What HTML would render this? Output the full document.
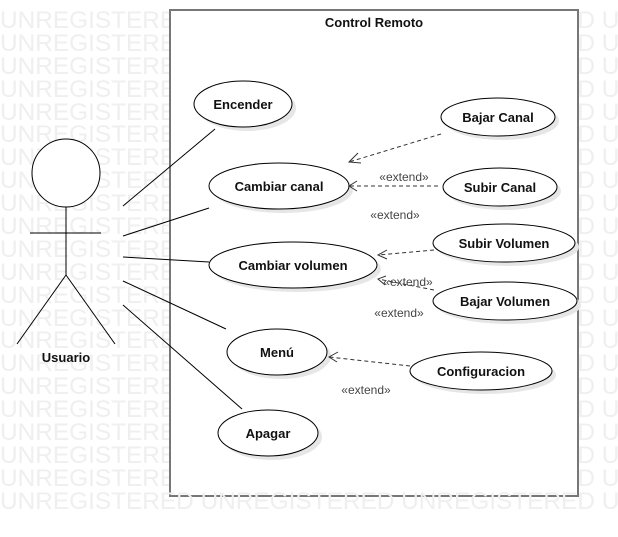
<!DOCTYPE html>
<html><head><meta charset="utf-8"><style>
html,body{margin:0;padding:0;background:#fff;}
svg{display:block;font-family:"Liberation Sans",sans-serif;}
.wm{fill:#efefef;font-size:24.4px;}
.uc{fill:#fff;stroke:#000;stroke-width:1;}
.sh{fill:#e6e6e6;}
.lb{font-size:13px;font-weight:bold;fill:#111;text-anchor:middle;}
.ex{font-size:12px;fill:#444;text-anchor:middle;}
.dl{stroke:#333;stroke-width:1;stroke-dasharray:4,3;fill:none;}
.ah{stroke:#333;stroke-width:1;fill:none;}
</style></head><body>
<svg width="618" height="537" viewBox="0 0 618 537">
<g class="wm">
<text x="0" y="28">UNREGISTERED UNREGISTERED UNREGISTERED U</text>
<text x="0" y="51">UNREGISTERED UNREGISTERED UNREGISTERED U</text>
<text x="0" y="74">UNREGISTERED UNREGISTERED UNREGISTERED U</text>
<text x="0" y="97">UNREGISTERED UNREGISTERED UNREGISTERED U</text>
<text x="0" y="120">UNREGISTERED UNREGISTERED UNREGISTERED U</text>
<text x="0" y="142">UNREGISTERED UNREGISTERED UNREGISTERED U</text>
<text x="0" y="165">UNREGISTERED UNREGISTERED UNREGISTERED U</text>
<text x="0" y="188">UNREGISTERED UNREGISTERED UNREGISTERED U</text>
<text x="0" y="211">UNREGISTERED UNREGISTERED UNREGISTERED U</text>
<text x="0" y="234">UNREGISTERED UNREGISTERED UNREGISTERED U</text>
<text x="0" y="257">UNREGISTERED UNREGISTERED UNREGISTERED U</text>
<text x="0" y="280">UNREGISTERED UNREGISTERED UNREGISTERED U</text>
<text x="0" y="303">UNREGISTERED UNREGISTERED UNREGISTERED U</text>
<text x="0" y="326">UNREGISTERED UNREGISTERED UNREGISTERED U</text>
<text x="0" y="348">UNREGISTERED UNREGISTERED UNREGISTERED U</text>
<text x="0" y="371">UNREGISTERED UNREGISTERED UNREGISTERED U</text>
<text x="0" y="394">UNREGISTERED UNREGISTERED UNREGISTERED U</text>
<text x="0" y="417">UNREGISTERED UNREGISTERED UNREGISTERED U</text>
<text x="0" y="440">UNREGISTERED UNREGISTERED UNREGISTERED U</text>
<text x="0" y="463">UNREGISTERED UNREGISTERED UNREGISTERED U</text>
<text x="0" y="486">UNREGISTERED UNREGISTERED UNREGISTERED U</text>
</g>
<rect x="170" y="10" width="408" height="486" fill="#fff" stroke="#777" stroke-width="2"/>
<text class="wm" x="0" y="509">UNREGISTERED UNREGISTERED UNREGISTERED U</text>
<text class="lb" x="374" y="27">Control Remoto</text>

<g stroke="#000" stroke-width="1" fill="none">
<circle cx="66" cy="173" r="34" fill="#fff"/>
<line x1="66" y1="207" x2="66" y2="275"/>
<line x1="30" y1="233" x2="101" y2="233"/>
<line x1="66" y1="275" x2="17" y2="344"/>
<line x1="66" y1="275" x2="115" y2="344"/>
<line x1="123" y1="206" x2="215" y2="129"/>
<line x1="123" y1="236" x2="209" y2="208"/>
<line x1="123" y1="257" x2="209" y2="262"/>
<line x1="123" y1="281" x2="226" y2="329"/>
<line x1="123" y1="305" x2="242" y2="409"/>
</g>
<text class="lb" x="66" y="362">Usuario</text>

<g class="sh">
<ellipse cx="247" cy="108" rx="49" ry="23"/>
<ellipse cx="283" cy="190" rx="70" ry="23"/>
<ellipse cx="297" cy="269" rx="84" ry="23"/>
<ellipse cx="281" cy="356" rx="50" ry="23"/>
<ellipse cx="272" cy="437" rx="50" ry="23"/>
<ellipse cx="502" cy="121" rx="57" ry="19"/>
<ellipse cx="504" cy="191" rx="57" ry="19"/>
<ellipse cx="508" cy="247" rx="71" ry="19"/>
<ellipse cx="509" cy="305" rx="72" ry="19"/>
<ellipse cx="485" cy="375" rx="71" ry="19"/>
</g>
<g class="uc">
<ellipse cx="243" cy="104" rx="49" ry="23"/>
<ellipse cx="279" cy="186" rx="70" ry="23"/>
<ellipse cx="293" cy="265" rx="84" ry="23"/>
<ellipse cx="277" cy="352" rx="50" ry="23"/>
<ellipse cx="268" cy="433" rx="50" ry="23"/>
<ellipse cx="498" cy="117" rx="57" ry="19"/>
<ellipse cx="500" cy="187" rx="57" ry="19"/>
<ellipse cx="504" cy="243" rx="71" ry="19"/>
<ellipse cx="505" cy="301" rx="72" ry="19"/>
<ellipse cx="481" cy="371" rx="71" ry="19"/>
</g>
<text class="lb" x="243" y="109">Encender</text>
<text class="lb" x="279" y="191">Cambiar canal</text>
<text class="lb" x="293" y="270">Cambiar volumen</text>
<text class="lb" x="277" y="357">Menú</text>
<text class="lb" x="268" y="438">Apagar</text>
<text class="lb" x="498" y="122">Bajar Canal</text>
<text class="lb" x="500" y="192">Subir Canal</text>
<text class="lb" x="504" y="248">Subir Volumen</text>
<text class="lb" x="505" y="306">Bajar Volumen</text>
<text class="lb" x="481" y="376">Configuracion</text>

<line class="dl" x1="441" y1="134" x2="349" y2="162"/>
<polyline class="ah" points="358,153 349,162 361,163"/>
<line class="dl" x1="438" y1="186" x2="349" y2="186"/>
<polyline class="ah" points="357,181 349,186 357,191"/>
<line class="dl" x1="434" y1="250" x2="378" y2="255"/>
<polyline class="ah" points="387,250 378,255 387,259"/>
<line class="dl" x1="434" y1="290" x2="378" y2="279"/>
<polyline class="ah" points="386,276 378,279 385,285"/>
<line class="dl" x1="410" y1="366" x2="329" y2="357"/>
<polyline class="ah" points="338,352 329,357 337,362"/>
<text class="ex" x="404" y="181">«extend»</text>
<text class="ex" x="395" y="219">«extend»</text>
<text class="ex" x="408" y="286">«extend»</text>
<text class="ex" x="399" y="317">«extend»</text>
<text class="ex" x="366" y="394">«extend»</text>
</svg>
</body></html>
